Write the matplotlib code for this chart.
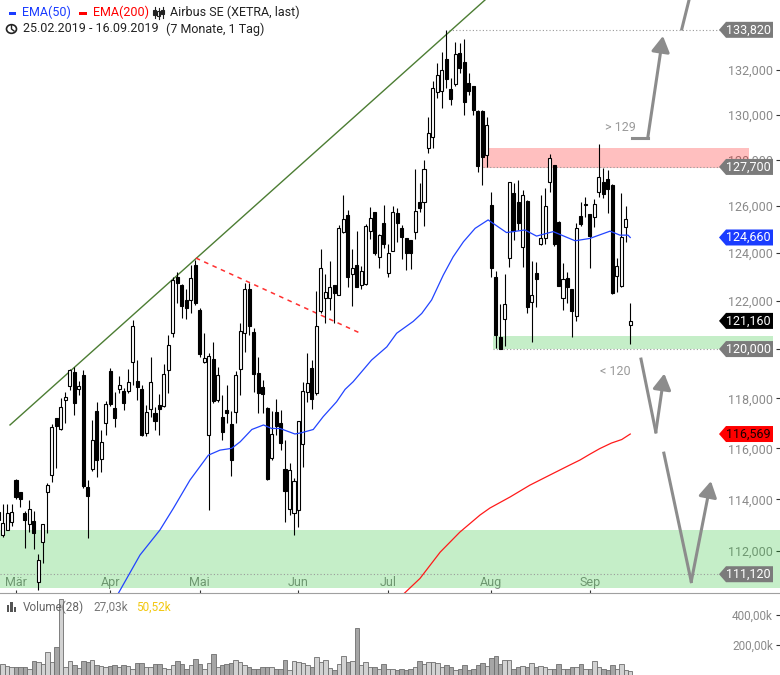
import matplotlib
matplotlib.use("Agg")
import matplotlib.pyplot as plt
from matplotlib.patches import Polygon, Rectangle, Circle
from matplotlib.lines import Line2D
from matplotlib.ticker import FixedLocator, NullLocator, FuncFormatter
from matplotlib.transforms import IdentityTransform

plt.rcParams["font.family"] = ["Roboto", "DejaVu Sans"]

W, H = 780, 675
GRAY_TXT = "#8a8a8a"
ARROW = "#8c8c8c"

# --- daily candles (index 0 = 25.02.2019) ---
opens = [113.20, 112.61, 112.83, 113.13, 114.75, 114.27, 113.45, 113.06, 113.17, 110.83,
         112.36, 114.29, 114.95, 117.19, 116.75, 117.93, 118.51, 119.07, 118.38, 118.93,
         114.46, 115.19, 117.47, 115.56, 117.02, 119.10, 117.59, 118.36, 118.29, 118.31,
         119.46, 118.70, 118.37, 116.62, 117.55, 117.39, 117.73, 117.69, 119.14, 120.65,
         123.00, 122.65, 122.03, 122.01, 123.48, 121.61, 119.46, 116.53, 119.59, 117.93,
         117.23, 117.53, 116.95, 117.46, 119.17, 120.68, 122.49, 120.71, 119.01, 118.47,
         117.59, 115.60, 117.43, 116.99, 115.17, 113.61, 113.45, 113.58, 116.17, 118.24,
         119.21, 118.20, 121.57, 122.12, 122.10, 122.64, 122.24, 124.88, 125.62, 123.10,
         123.49, 122.65, 122.68, 124.95, 125.75, 123.84, 125.28, 123.14, 124.10, 125.72,
         125.05, 124.63, 124.55, 124.91, 126.17, 126.19, 128.52, 129.00, 131.03, 131.07,
         132.48, 131.13, 131.36, 132.75, 132.35, 131.43, 131.28, 130.18, 130.18, 128.22,
         126.05, 123.00, 120.48, 121.22, 123.78, 126.55, 126.19, 124.24, 126.22, 121.93,
         123.17, 124.37, 124.63, 127.03, 127.78, 125.33, 122.10, 122.93, 122.47, 121.37,
         125.58, 126.03, 125.65, 125.55, 126.63, 127.06, 127.16, 126.92, 123.04, 122.61,
         125.12, 120.98]
highs = [113.70, 113.81, 113.81, 113.81, 114.78, 114.28, 113.55, 113.97, 113.55, 111.88,
         113.04, 114.62, 116.95, 117.20, 118.00, 118.25, 119.18, 119.27, 118.70, 119.14,
         114.75, 117.13, 117.86, 116.73, 117.89, 119.22, 118.25, 118.90, 118.41, 119.18,
         121.20, 119.55, 118.53, 117.73, 119.66, 117.66, 118.19, 119.39, 120.58, 123.00,
         123.19, 122.68, 122.47, 123.49, 123.71, 121.69, 120.65, 119.84, 120.29, 119.26,
         118.13, 118.53, 117.50, 119.11, 121.06, 122.72, 122.75, 120.86, 119.66, 118.74,
         117.65, 117.49, 117.96, 117.53, 116.33, 115.41, 114.82, 117.09, 118.67, 119.83,
         119.55, 122.40, 124.16, 123.12, 123.66, 122.66, 125.19, 126.48, 125.84, 124.16,
         124.95, 123.45, 125.24, 125.98, 125.77, 124.79, 126.03, 124.38, 126.01, 125.91,
         125.19, 124.65, 124.57, 127.60, 126.99, 128.00, 129.88, 131.48, 132.33, 132.83,
         133.82, 131.63, 133.28, 133.21, 133.40, 131.85, 131.30, 130.20, 130.20, 129.88,
         126.63, 123.25, 121.86, 123.12, 127.05, 126.99, 127.13, 126.70, 126.25, 123.66,
         123.63, 126.48, 126.77, 128.27, 127.80, 125.35, 123.56, 123.21, 122.49, 125.29,
         126.17, 126.41, 125.67, 126.30, 128.71, 127.64, 127.57, 126.94, 123.80, 126.58,
         126.01, 121.89]
lows = [112.90, 112.54, 112.81, 112.97, 114.03, 113.71, 112.13, 112.74, 112.10, 110.54,
        111.53, 112.70, 114.68, 115.22, 116.73, 116.99, 118.33, 117.33, 118.13, 114.44,
        112.51, 115.11, 114.88, 115.08, 116.53, 117.69, 116.86, 118.21, 117.53, 118.21,
        118.53, 117.93, 116.49, 116.49, 117.26, 116.73, 116.53, 117.65, 118.20, 120.51,
        121.89, 121.29, 121.22, 121.47, 121.82, 119.67, 119.42, 113.58, 117.81, 117.85,
        116.33, 116.99, 114.92, 117.02, 118.13, 119.89, 120.58, 118.26, 117.39, 117.39,
        114.75, 115.54, 116.53, 115.93, 113.13, 113.39, 112.61, 112.93, 115.25, 117.86,
        117.55, 118.13, 121.47, 121.06, 121.61, 121.06, 122.22, 124.84, 122.56, 121.79,
        122.56, 122.47, 122.66, 124.58, 123.92, 123.35, 124.20, 122.97, 124.08, 124.48,
        123.75, 123.28, 123.32, 124.58, 125.76, 125.16, 128.30, 128.52, 130.73, 130.28,
        131.18, 130.43, 131.30, 131.85, 129.99, 130.88, 129.99, 127.49, 126.92, 127.71,
        123.00, 120.03, 120.00, 120.12, 123.40, 124.55, 124.98, 123.40, 121.50, 120.30,
        121.72, 124.35, 124.38, 126.63, 124.31, 122.60, 121.61, 121.89, 120.48, 121.17,
        125.15, 125.55, 123.35, 125.12, 126.39, 126.34, 125.69, 122.29, 122.37, 122.59,
        124.45, 120.22]
closes = [113.50, 113.08, 113.45, 113.49, 114.07, 114.01, 113.19, 113.61, 112.68, 111.66,
          113.04, 114.54, 116.83, 116.89, 117.64, 118.04, 119.14, 117.82, 118.48, 114.51,
          114.12, 116.32, 115.54, 116.24, 117.79, 117.76, 117.19, 118.52, 117.82, 118.66,
          120.95, 118.47, 116.53, 117.46, 118.66, 117.10, 117.55, 118.98, 120.17, 122.86,
          122.72, 121.79, 121.71, 122.95, 121.91, 119.78, 119.62, 119.70, 117.90, 118.93,
          116.63, 117.42, 115.54, 118.93, 120.74, 122.49, 120.96, 118.98, 118.20, 118.17,
          114.78, 116.57, 116.89, 116.20, 114.33, 115.14, 114.71, 117.09, 118.29, 118.63,
          117.96, 120.96, 123.35, 122.35, 122.56, 122.33, 125.05, 125.44, 123.00, 123.35,
          122.58, 123.23, 125.15, 125.48, 124.01, 124.77, 124.38, 123.99, 125.74, 125.27,
          124.67, 123.99, 124.01, 125.81, 125.93, 127.60, 129.18, 131.18, 131.78, 132.00,
          131.58, 130.69, 132.71, 132.10, 130.58, 131.07, 130.21, 127.74, 128.15, 129.54,
          123.35, 120.58, 120.02, 121.86, 127.03, 124.94, 125.27, 126.48, 121.72, 122.24,
          122.92, 124.63, 126.01, 128.08, 124.38, 122.62, 122.89, 122.58, 121.58, 125.05,
          125.24, 126.10, 124.72, 126.10, 127.25, 126.51, 126.73, 122.31, 123.45, 124.67,
          125.44, 121.16]
volume_k = [60, 73, 60, 56, 51, 51, 56, 42, 93, 87,
            73, 153, 87, 184, 505, 56, 93, 67, 44, 93,
            87, 98, 67, 60, 56, 60, 64, 51, 64, 60,
            38, 78, 78, 56, 51, 71, 71, 44, 38, 67,
            93, 73, 42, 64, 104, 73, 42, 82, 140, 56,
            64, 71, 78, 98, 87, 67, 56, 42, 38, 56,
            51, 51, 38, 38, 98, 33, 93, 87, 78, 64,
            56, 118, 87, 98, 44, 33, 71, 124, 87, 93,
            311, 67, 87, 56, 51, 42, 71, 38, 42, 33,
            38, 33, 42, 56, 93, 71, 87, 87, 78, 56,
            67, 56, 33, 42, 64, 33, 42, 64, 82, 60,
            111, 124, 73, 98, 98, 42, 51, 60, 56, 78,
            51, 60, 51, 42, 42, 71, 42, 42, 51, 51,
            73, 38, 42, 93, 56, 42, 33, 64, 42, 71,
            33, 27.03]

# moving averages (index, value)
ema50_idx = [25.0, 26.8, 31.65, 36.1, 39.1, 42.8, 46.9, 49.5, 52.1, 54.0, 56.6, 59.2, 61.0,
             62.9, 66.2, 67.7, 70.3, 72.5, 75.5, 77.4, 79.2, 83.3, 86.7, 88.9, 92.6, 94.5,
             96.7, 99.3, 101.5, 103.8, 106.4, 109.3, 113.4, 117.5, 120.1, 123.8, 128.7,
             132.0, 136.5, 138.7, 140.5, 141.0]
ema50_val = [109.8, 110.39, 111.85, 112.81, 113.65, 114.75, 115.73, 115.93, 116.0, 116.26,
             116.75, 116.93, 116.79, 116.79, 116.57, 116.62, 116.75, 117.26, 117.86, 118.36,
             118.67, 119.55, 120.09, 120.65, 121.14, 121.47, 122.03, 123.07, 123.84, 124.48,
             125.05, 125.41, 124.87, 124.98, 124.72, 124.91, 124.52, 124.62, 124.93, 124.76,
             124.76, 124.66]
ema200_idx = [89.0, 90.3, 94.1, 98.6, 103.0, 107.5, 109.7, 114.2, 118.6, 123.1, 127.5,
              129.8, 132.0, 134.2, 136.8, 139.1, 141.0]
ema200_val = [110.0, 110.35, 110.96, 111.96, 112.73, 113.39, 113.66, 114.09, 114.55, 114.95,
              115.34, 115.54, 115.77, 115.99, 116.21, 116.35, 116.569]

month_idx = [4, 25, 45, 67, 87, 110, 132]
month_lbl = ["Mär", "Apr", "Mai", "Jun", "Jul", "Aug", "Sep"]
price_ticks = [112, 114, 116, 118, 120, 122, 124, 126, 128, 130, 132]
vol_ticks = [200, 400]

# price tags on the right: value, box colour, text colour
tags = [(133.82, "#7b7b7b", "white"), (127.70, "#7b7b7b", "white"),
        (124.66, "#1a3cff", "white"), (121.16, "#000000", "white"),
        (120.00, "#7b7b7b", "white"), (116.569, "#ff0000", "#1a0000"),
        (111.12, "#7b7b7b", "white")]


def price_fmt(v, pos=None):
    # the 120 tick sits exactly under the 120,000 tag
    if abs(v - 120) < 1e-9:
        return ""
    return f"{v:.3f}".replace(".", ",")


fig = plt.figure(figsize=(W / 100, H / 100), dpi=100)
ax = fig.add_axes([0, 82 / H, 1, 593 / H])
axv = fig.add_axes([0, 0, 1, 80 / H])

x_lo, x_hi = 0.43, 174.4
ax.set_yscale("log")
ax.set_xlim(x_lo, x_hi)
ax.set_ylim(110.41, 135.19)
ax.set_axisbelow(True)

n = len(closes)
idx = list(range(n))
up = [c >= o for o, c in zip(opens, closes)]

# zones
ax.axhspan(110.58, 112.83, xmin=0, xmax=1, color=(0.1, 0.75, 0.15), alpha=0.25, lw=0, zorder=1)
ax.fill_between([108.2, 167.5], 127.65, 128.52, color="red", alpha=0.25, lw=0, zorder=1)
ax.fill_between([110.4, 172.8], 120.0, 120.53, color=(0.1, 0.75, 0.15), alpha=0.25, lw=0, zorder=1)
dot = dict(color="#9a9a9a", lw=0.8, ls=(0, (1, 2)), zorder=1.5)
ax.plot([x_lo, 161], [111.12, 111.12], **dot)
ax.plot([110.4, 161], [120.0, 120.0], **dot)
ax.plot([108.2, 161], [127.7, 127.7], **dot)
ax.plot([100.6, 161], [133.82, 133.82], **dot)

# trend lines
ax.plot([2.66, 108.6], [116.93, 135.19], color="#4c7d33", lw=1.0, zorder=2)
ax.plot([44.1, 80.7], [123.79, 120.66], color="#ff3030", lw=1.1, ls=(0, (3, 3)), zorder=2)

# candles
ax.vlines(idx, lows, highs, color="black", lw=0.8, zorder=3)
bottoms = [min(o, c) for o, c in zip(opens, closes)]
heights = [max(abs(c - o), 0.03) for o, c in zip(opens, closes)]
ax.bar(idx, heights, bottom=bottoms, width=0.68,
       color=["white" if u else "black" for u in up],
       edgecolor="black", linewidth=0.8, zorder=4)

ax.plot(ema50_idx, ema50_val, color="#2244ff", lw=0.9, zorder=5)
ax.plot(ema200_idx, ema200_val, color="#ff1a1a", lw=0.9, zorder=5)

# scenario arrows
aw = 2.2
ap = dict(arrowstyle="-|>,head_length=0.95,head_width=0.55", lw=aw, color=ARROW,
          mutation_scale=10, shrinkA=0, shrinkB=0)
ax.plot([141.4, 144.9], [128.97, 128.97], color=ARROW, lw=aw, zorder=6)
ax.annotate("", xy=(148.3, 133.54), xytext=(144.9, 128.97), arrowprops=ap, zorder=6)
ax.plot([152.5, 154.6], [133.86, 135.6], color=ARROW, lw=aw, zorder=6)
ax.plot([143.4, 146.7], [119.59, 116.65], color=ARROW, lw=aw, zorder=6)
ax.annotate("", xy=(148.6, 119.0), xytext=(146.7, 116.65), arrowprops=ap, zorder=6)
ax.plot([148.5, 154.6], [115.81, 110.84], color=ARROW, lw=aw, zorder=6)
ax.annotate("", xy=(159.0, 114.71), xytext=(154.6, 110.84), arrowprops=ap, zorder=6)
ax.text(138.7, 129.45, "> 129", color="#9a9a9a", fontsize=9, ha="center", va="center")
ax.text(137.6, 119.1, "< 120", color="#9a9a9a", fontsize=9, ha="center", va="center")

# axes styling
for s in ["top", "left", "right"]:
    ax.spines[s].set_visible(False)
ax.spines["bottom"].set_color("#a0a0a0")
ax.yaxis.set_major_locator(FixedLocator(price_ticks))
ax.yaxis.set_minor_locator(NullLocator())
ax.yaxis.set_major_formatter(FuncFormatter(price_fmt))
ax.yaxis.tick_right()
ax.tick_params(axis="y", direction="in", length=3, color="#333333", labelcolor=GRAY_TXT,
               labelsize=9, pad=-5)
for t in ax.get_yticklabels():
    t.set_horizontalalignment("right")
ax.set_xticks(month_idx, month_lbl)
ax.tick_params(axis="x", direction="in", length=2.5, color="#333333", labelcolor=GRAY_TXT,
               labelsize=9, pad=-12)

# volume panel
axv.set_xlim(x_lo, x_hi)
axv.set_ylim(0, 533)
axv.bar(idx, volume_k, width=1.0, color=["#d2d2d2" if u else "#a5a5a5" for u in up],
        edgecolor="#6e6e6e", linewidth=0.6)
for s in ["top", "left", "right", "bottom"]:
    axv.spines[s].set_visible(False)
axv.set_xticks([])
axv.yaxis.set_major_locator(FixedLocator(vol_ticks))
axv.yaxis.set_major_formatter(FuncFormatter(lambda v, p: f"{v:.2f}k".replace(".", ",")))
axv.yaxis.tick_right()
axv.tick_params(axis="y", direction="in", length=3, color="#333333", labelcolor=GRAY_TXT,
                labelsize=8.5, pad=-5)
for t in axv.get_yticklabels():
    t.set_horizontalalignment("right")

# price tags (display coordinates from the data transform)
fig.canvas.draw()
for val, fc, tc in tags:
    yd = ax.transData.transform((1, val))[1]
    pts = [(719, yd), (726, yd + 8), (773, yd + 8), (773, yd - 8), (726, yd - 8)]
    poly = Polygon(pts, closed=True, facecolor=fc, edgecolor="none",
                   transform=IdentityTransform(), zorder=10)
    fig.add_artist(poly)
    fig.text(771 / W, yd / H, f"{val:.3f}".replace(".", ","), color=tc, fontsize=9,
             ha="right", va="center", zorder=11)


def fx(x):
    return x / W


def fy(y):
    return 1 - y / H


# header
fig.add_artist(Rectangle((fx(9), fy(15)), 7 / W, 3 / H, transform=fig.transFigure,
                         color="#1a3cff", lw=0))
fig.text(fx(22), fy(12.5), "EMA(50)", color="#1a3cff", fontsize=9, va="center")
fig.add_artist(Rectangle((fx(79), fy(15)), 8 / W, 3 / H, transform=fig.transFigure,
                         color="#ff0000", lw=0))
fig.text(fx(93), fy(12.5), "EMA(200)", color="#ff0000", fontsize=9, va="center")
for cx, b0, b1, w0, w1, fill in [(154.5, 10, 15, 7, 18, True), (158.5, 11, 16, 8, 19, False),
                                 (162.5, 10, 14, 7, 18, True)]:
    fig.add_artist(Line2D([fx(cx), fx(cx)], [fy(w1), fy(w0)], transform=fig.transFigure,
                          color="#222222", lw=0.8))
    fig.add_artist(Rectangle((fx(cx - 1.5), fy(b1)), 3 / W, (b1 - b0) / H,
                             transform=fig.transFigure, facecolor="#222222" if fill else "white",
                             edgecolor="#222222", lw=0.8))
fig.text(fx(170), fy(12.5), "Airbus SE (XETRA, last)", color="#222222", fontsize=9, va="center")
fig.add_artist(Circle((fx(11.5), fy(29)), 5 / W, transform=fig.transFigure, fill=False,
                      edgecolor="#222222", lw=1.2))
fig.add_artist(Line2D([fx(11.5), fx(11.5), fx(14)], [fy(25.5), fy(29), fy(31)],
                      transform=fig.transFigure, color="#222222", lw=1.0))
fig.text(fx(23), fy(29), "25.02.2019 - 16.09.2019", color="#222222", fontsize=9, va="center")
fig.text(fx(166), fy(29), "(7 Monate, 1 Tag)", color="#222222", fontsize=9, va="center")

# volume header
for bx, bh in [(6.5, 7), (10, 10), (13.5, 5)]:
    fig.add_artist(Rectangle((fx(bx), fy(612)), 2.5 / W, bh / H, transform=fig.transFigure,
                             color="#555555", lw=0))
fig.text(fx(23), fy(607), "Volume(28)", color="#666666", fontsize=8.5, va="center")
fig.text(fx(93), fy(607), "27,03k", color="#777777", fontsize=8.5, va="center")
fig.text(fx(136), fy(607), "50,52k", color="#f2c811", fontsize=8.5, va="center")

fig.savefig("out.png", dpi=100)
